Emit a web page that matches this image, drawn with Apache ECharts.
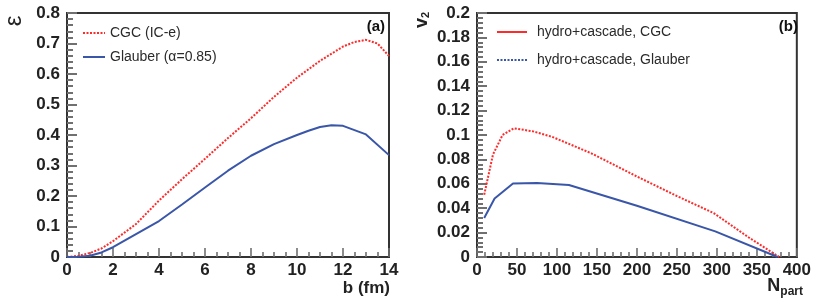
<!DOCTYPE html>
<html>
<head>
<meta charset="utf-8">
<script src="https://cdn.jsdelivr.net/npm/echarts@6/dist/echarts.min.js"></script>
<style>html,body{margin:0;padding:0;background:#fff}#c{width:814px;height:303px}</style>
</head>
<body>
<div id="c"></div>
<script>
// Panel (a): eccentricity vs impact parameter
var bCGC = [0, 0.5, 1, 1.5, 2, 3, 4, 5, 6, 7, 8, 9, 10, 11, 12, 12.5, 13, 13.5, 14];
var epsCGC = [0, 0.004, 0.013, 0.028, 0.052, 0.108, 0.185, 0.255, 0.322, 0.39, 0.455, 0.525, 0.588, 0.643, 0.69, 0.705, 0.712, 0.70, 0.659];
var bGlauber = [0, 0.5, 1, 1.5, 2, 3, 4, 5, 6, 7, 8, 9, 10, 10.5, 11, 11.5, 12, 13, 14];
var epsGlauber = [0, 0.001, 0.004, 0.015, 0.032, 0.075, 0.118, 0.172, 0.228, 0.283, 0.332, 0.37, 0.40, 0.414, 0.426, 0.432, 0.43, 0.402, 0.334];

// Panel (b): v2 vs Npart
var npartCGC = [9, 20, 32, 46, 70, 94, 114, 143, 200, 250, 296, 340, 378];
var v2CGC = [0.051, 0.084, 0.100, 0.1055, 0.103, 0.0985, 0.093, 0.085, 0.066, 0.050, 0.036, 0.016, 0];
var npartGlauber = [9, 22, 45, 75, 115, 200, 298, 376];
var v2Glauber = [0.032, 0.048, 0.0602, 0.0607, 0.059, 0.042, 0.021, 0];

var namesA = ['CGC (IC-e)', 'Glauber (\u03b1=0.85)'];
var namesB = ['hydro+cascade, CGC', 'hydro+cascade, Glauber'];

function pairs(xs, ys) { return xs.map(function (x, i) { return [x, ys[i]]; }); }

var FONT = '"Liberation Sans", Arial, Helvetica, sans-serif';
var RED = '#ff2a2a';
var BLUE = '#3a56a8';
var FRAME = '#333333';
var TICK = '#707070';
var DOT = [2, 1.5];

function xAx(gi, max, interval, minorSplit) {
  return {
    type: 'value', gridIndex: gi, min: 0, max: max, interval: interval,
    axisLine: { show: true, onZero: false, lineStyle: { color: FRAME, width: 2 } },
    axisTick: { show: true, inside: true, length: 9, lineStyle: { color: TICK, width: 1.6 } },
    minorTick: { show: true, splitNumber: minorSplit, length: 5, lineStyle: { color: TICK, width: 1.6 } },
    splitLine: { show: false },
    axisLabel: { margin: 5, color: '#222', fontFamily: FONT, fontWeight: 'bold', fontSize: 17 }
  };
}
function yAx(gi, max, interval, minorSplit) {
  return {
    type: 'value', gridIndex: gi, min: 0, max: max, interval: interval,
    axisLine: { show: true, onZero: false, lineStyle: { color: FRAME, width: 2 } },
    axisTick: { show: true, inside: true, length: 10, lineStyle: { color: TICK, width: 2 } },
    minorTick: { show: true, splitNumber: minorSplit, length: 6, lineStyle: { color: TICK, width: 2 } },
    splitLine: { show: false },
    axisLabel: { margin: 7, color: '#222', fontFamily: FONT, fontWeight: 'bold', fontSize: 17 }
  };
}

function legLine(x1, x2, y, color, type) {
  return { type: 'line', silent: true, shape: { x1: x1, y1: y, x2: x2, y2: y }, style: { stroke: color, lineWidth: 2, lineDash: type === 'solid' ? null : DOT } };
}
function legText(x, y, text) {
  return { type: 'text', silent: true, x: x, y: y, style: { text: text, font: '14px ' + FONT, fill: '#2a2a2a', textAlign: 'left', textVerticalAlign: 'middle' } };
}

var chart = echarts.init(document.getElementById('c'), null, { renderer: 'canvas' });
chart.setOption({
  animation: false,
  backgroundColor: '#fff',
  grid: [
    { left: 67, top: 13, width: 322, height: 244, show: true, borderColor: FRAME, borderWidth: 2 },
    { left: 477, top: 13, width: 325, height: 244, show: true, borderColor: FRAME, borderWidth: 2 }
  ],
  xAxis: [xAx(0, 14, 2, 4), xAx(1, 400, 50, 5)],
  yAxis: [yAx(0, 0.8, 0.1, 5), yAx(1, 0.2, 0.02, 5)],
  graphic: [
    legLine(83, 105, 33, RED, 'dot'), legText(110, 33, namesA[0]),
    legLine(83, 105, 57, BLUE, 'solid'), legText(110, 57, namesA[1]),
    legLine(497, 527, 32, RED, 'solid'), legText(537, 32, namesB[0]),
    legLine(497, 527, 60, BLUE, 'dot'), legText(537, 60, namesB[1]),
    { type: 'text', x: 14, y: 21, rotation: Math.PI / 2, style: { text: '\u03b5', font: '24px ' + FONT, fill: '#222', textAlign: 'center', textVerticalAlign: 'middle' } },
    { type: 'text', x: 422, y: 20, rotation: Math.PI / 2, style: { text: '{v|v}{s|2}', rich: { v: { fontFamily: FONT, fontWeight: 'bold', fontSize: 18, fill: '#222' }, s: { fontFamily: FONT, fontWeight: 'bold', fontSize: 11, fill: '#222', padding: [8, 0, 0, 0] } }, textAlign: 'center', textVerticalAlign: 'middle' } },
    { type: 'text', x: 390, y: 288, style: { text: 'b (fm)', font: 'bold 17px ' + FONT, fill: '#222', textAlign: 'right', textVerticalAlign: 'middle' } },
    { type: 'text', x: 803, y: 286, style: { text: '{n|N}{p|part}', rich: { n: { fontFamily: FONT, fontWeight: 'bold', fontSize: 18, fill: '#222' }, p: { fontFamily: FONT, fontWeight: 'bold', fontSize: 12, fill: '#222', padding: [12, 0, 0, 0] } }, textAlign: 'right', textVerticalAlign: 'middle' } },
    { type: 'text', x: 385, y: 27, style: { text: '(a)', font: 'bold 15px ' + FONT, fill: '#111', textAlign: 'right', textVerticalAlign: 'middle' } },
    { type: 'text', x: 798, y: 27, style: { text: '(b)', font: 'bold 15px ' + FONT, fill: '#111', textAlign: 'right', textVerticalAlign: 'middle' } }
  ],
  series: [
    { name: namesA[0], type: 'line', xAxisIndex: 0, yAxisIndex: 0, data: pairs(bCGC, epsCGC), showSymbol: false, symbol: 'none', lineStyle: { color: RED, width: 2, type: DOT }, itemStyle: { color: RED } },
    { name: namesA[1], type: 'line', xAxisIndex: 0, yAxisIndex: 0, data: pairs(bGlauber, epsGlauber), showSymbol: false, symbol: 'none', lineStyle: { color: BLUE, width: 2 }, itemStyle: { color: BLUE } },
    { name: namesB[0], type: 'line', xAxisIndex: 1, yAxisIndex: 1, data: pairs(npartCGC, v2CGC), showSymbol: false, symbol: 'none', lineStyle: { color: RED, width: 2, type: DOT }, itemStyle: { color: RED } },
    { name: namesB[1], type: 'line', xAxisIndex: 1, yAxisIndex: 1, data: pairs(npartGlauber, v2Glauber), showSymbol: false, symbol: 'none', lineStyle: { color: BLUE, width: 2 }, itemStyle: { color: BLUE } }
  ]
});
</script>
</body>
</html>
